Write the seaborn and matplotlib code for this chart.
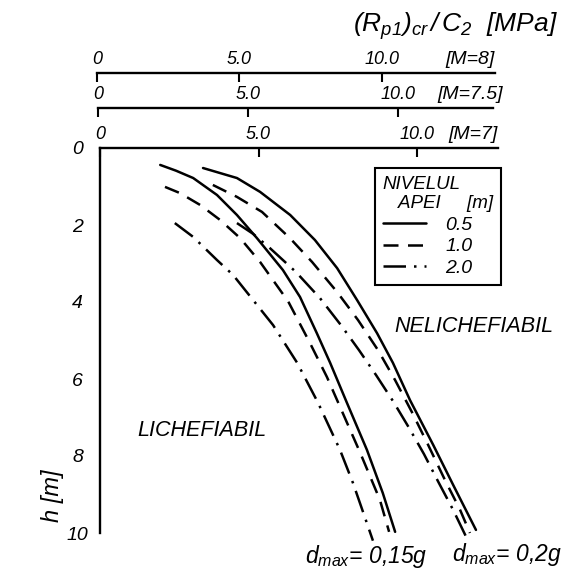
import matplotlib
matplotlib.use("Agg")
import matplotlib.pyplot as plt
from matplotlib.lines import Line2D
import pandas as pd
import seaborn as sns

# Depth below surface h [m] and critical ratio (Rp1)cr/C2 [MPa] on the M=7 scale
# d_max = 0.15 g
h_015_05 = [0.44, 0.59, 0.78, 1.22, 1.74, 2.34, 3.17, 3.87, 4.81, 5.58, 6.62, 7.84, 8.96, 9.97]
r_015_05 = [1.90, 2.40, 2.94, 3.69, 4.32, 4.95, 5.77, 6.31, 6.84, 7.26, 7.79, 8.42, 8.92, 9.31]
h_015_10 = [1.01, 1.17, 1.48, 1.87, 2.34, 2.96, 3.99, 5.06, 5.95, 6.55, 7.92, 9.14, 9.97]
r_015_10 = [2.05, 2.52, 3.16, 3.79, 4.42, 5.05, 5.94, 6.62, 7.16, 7.48, 8.21, 8.83, 9.12]
h_015_20 = [1.95, 2.31, 2.91, 3.30, 3.95, 4.60, 5.58, 6.62, 7.84, 8.70, 9.53, 10.20]
r_015_20 = [2.36, 2.94, 3.69, 4.20, 4.83, 5.46, 6.22, 6.88, 7.57, 7.98, 8.33, 8.61]
# d_max = 0.2 g
h_020_05 = [0.52, 0.78, 1.14, 1.74, 2.39, 3.12, 3.95, 4.81, 5.58, 6.55, 7.71, 8.75, 9.92]
r_020_05 = [3.25, 4.32, 5.05, 6.00, 6.78, 7.48, 8.11, 8.74, 9.24, 9.78, 10.51, 11.14, 11.86]
h_020_10 = [0.96, 1.27, 1.66, 2.34, 2.96, 3.74, 4.47, 5.25, 6.03, 6.86, 7.71, 8.62, 9.40, 10.0]
r_020_10 = [3.56, 4.32, 5.11, 5.99, 6.69, 7.48, 8.14, 8.77, 9.31, 9.84, 10.35, 10.88, 11.36, 11.67]
h_020_20 = [1.95, 2.23, 2.60, 3.22, 3.90, 4.60, 5.25, 5.90, 6.57, 7.27, 7.95, 8.70, 9.40, 10.10]
r_020_20 = [4.32, 4.83, 5.36, 6.18, 6.94, 7.60, 8.17, 8.71, 9.24, 9.75, 10.22, 10.69, 11.14, 11.55]

water_levels = ["0.5", "1.0", "2.0"]
scale_ticks = [0, 5, 10]
scale_labels = ["0", "5.0", "10.0"]
depth_ticks = list(range(0, 11))
depth_labels = [str(t) if t % 2 == 0 else "" for t in depth_ticks]

frames = []
for dmax, lvl, hh, rr in [
    ("0.15", "0.5", h_015_05, r_015_05),
    ("0.15", "1.0", h_015_10, r_015_10),
    ("0.15", "2.0", h_015_20, r_015_20),
    ("0.2", "0.5", h_020_05, r_020_05),
    ("0.2", "1.0", h_020_10, r_020_10),
    ("0.2", "2.0", h_020_20, r_020_20),
]:
    frames.append(pd.DataFrame({"h": hh, "R": rr, "nivel": lvl, "dmax": dmax}))
df = pd.concat(frames, ignore_index=True)

sns.set_style("white")
plt.rcParams["font.family"] = ["Liberation Sans", "DejaVu Sans"]
plt.rcParams["font.style"] = "italic"
plt.rcParams["text.color"] = "black"
plt.rcParams["axes.labelcolor"] = "black"
plt.rcParams["xtick.color"] = "black"
plt.rcParams["ytick.color"] = "black"
plt.rcParams["mathtext.fontset"] = "custom"
plt.rcParams["mathtext.rm"] = "Liberation Sans:italic"
plt.rcParams["mathtext.it"] = "Liberation Sans:italic"

W, H = 572, 570
fig = plt.figure(figsize=(W / 100, H / 100), dpi=100)


def fx(px):
    return px / W


def fy(py):
    return 1 - py / H


LW = 1.8
dash_map = {"0.5": "", "1.0": (6, 3.8), "2.0": (9, 3.2, 1.0, 3.2)}

# main plot (M = 7 scale on top spine)
ax = fig.add_axes([fx(100), fy(533), fx(398), (533 - 148) / H])
sns.lineplot(data=df, x="R", y="h", style="nivel", units="dmax", estimator=None,
             sort=False, dashes=dash_map, color="black", lw=LW, legend=False,
             style_order=water_levels, ax=ax)
for ln in ax.lines:
    ln.set_clip_on(False)
ax.set_xlim(0, 398 / 31.7)
ax.set_ylim(10, 0)
ax.set_xlabel("")
ax.set_ylabel("")
for s in ["right", "bottom"]:
    ax.spines[s].set_visible(False)
for s in ["left", "top"]:
    ax.spines[s].set_linewidth(1.7)
    ax.spines[s].set_color("black")
ax.xaxis.tick_top()
ax.set_xticks(scale_ticks)
ax.set_xticklabels(scale_labels)
ax.tick_params(axis="x", direction="in", length=6.5, width=1.5, pad=3.5,
               labelsize=13, colors="black")
ax.set_yticks(depth_ticks)
ax.set_yticklabels(depth_labels)
ax.tick_params(axis="y", direction="in", length=6, width=1.5, pad=16,
               labelsize=14, colors="black")
for t in ax.get_yticklabels():
    t.set_horizontalalignment("center")
ax.annotate("[M=7]", xy=(1.0, 1.0), xycoords="axes fraction", xytext=(0, 3.5),
            textcoords="offset points", ha="right", va="bottom", fontsize=14)


def scale_axis(x0, x1, ypx, xmax, name, dx):
    a = fig.add_axes([fx(x0), fy(ypx) - 0.001, fx(x1 - x0), 0.001])
    a.set_xlim(0, xmax)
    a.set_yticks([])
    for s in ["right", "bottom", "left"]:
        a.spines[s].set_visible(False)
    a.spines["top"].set_linewidth(1.7)
    a.spines["top"].set_color("black")
    a.patch.set_alpha(0)
    a.xaxis.tick_top()
    a.set_xticks(scale_ticks)
    a.set_xticklabels(scale_labels)
    a.tick_params(axis="x", direction="in", length=6.5, width=1.5, pad=3.5,
                  labelsize=13, colors="black")
    a.annotate(name, xy=(1.0, 1.0), xycoords="axes fraction", xytext=(dx, 3.5),
               textcoords="offset points", ha="right", va="bottom", fontsize=14)
    return a


scale_axis(98, 493, 108, 395 / 30.0, "[M=7.5]", 7)
scale_axis(97, 495, 72.5, 398 / 28.5, "[M=8]", 0)

fig.text(fx(353), fy(26), r"$(R_{p1})_{cr}\,/\,C_2$  [MPa]", fontsize=19,
         ha="left", va="center")

# region names and curve families
fig.text(fx(202), fy(431), "LICHEFIABIL", fontsize=15.5, ha="center", va="center")
fig.text(fx(474), fy(326), "NELICHEFIABIL", fontsize=15.5, ha="center", va="center")
fig.text(fx(305), fy(557), r"$d_{max}$= 0,15g", fontsize=16.5, ha="left", va="center")
fig.text(fx(452), fy(555), r"$d_{max}$= 0,2g", fontsize=16.5, ha="left", va="center")

fig.text(fx(52), fy(496), "h [m]", rotation=90, fontsize=17, ha="center", va="center")

handles = [Line2D([], [], color="black", lw=LW,
                  linestyle="-" if dash_map[l] == "" else (0, dash_map[l]))
           for l in water_levels]
leg = fig.legend(handles, water_levels, title="NIVELUL\n   APEI     [m]",
                 loc="upper left", bbox_to_anchor=(fx(375), fy(168)),
                 bbox_transform=fig.transFigure, borderaxespad=0,
                 frameon=True, fancybox=False, edgecolor="black", framealpha=1,
                 fontsize=14, title_fontsize=13.5, handlelength=2.2,
                 handletextpad=1.0, labelspacing=0.2, borderpad=0.4,
                 alignment="left")
leg.get_frame().set_linewidth(1.5)

fig.savefig("out.png", dpi=100)
